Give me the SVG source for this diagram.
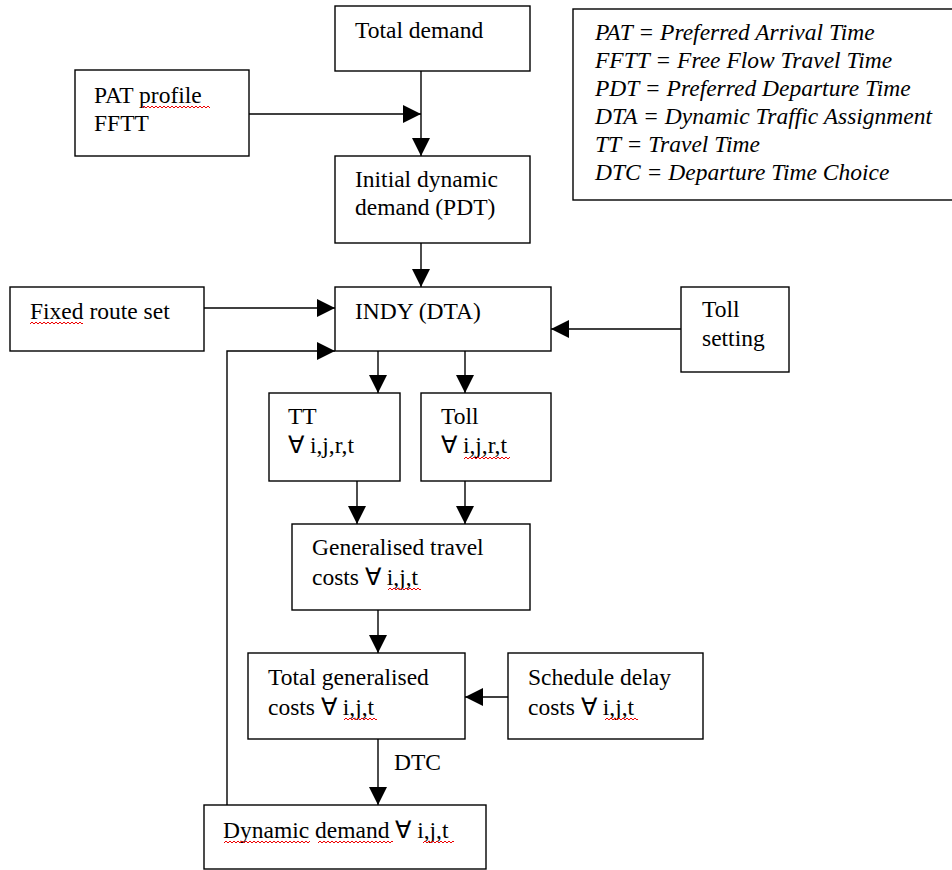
<svg xmlns="http://www.w3.org/2000/svg" xmlns:xlink="http://www.w3.org/1999/xlink" width="952" height="870" viewBox="0 0 952 870">
<style>
.box{fill:#fff;stroke:#000;stroke-width:1.4}
.t{font-family:"Liberation Serif","Times New Roman",serif;font-size:23.5px;fill:#000}
.it{font-style:italic}
.c{fill:none;stroke:#000;stroke-width:1.4}
.sq{fill:none;stroke:#e00;stroke-width:1}
</style>
<defs>
<marker id="ah" markerUnits="userSpaceOnUse" markerWidth="18" markerHeight="18" refX="18" refY="9" orient="auto">
<path d="M0,0 L18,9 L0,18 Z" fill="#000"/>
</marker>
<path id="zz" class="sq" d="M0,3 l2,-2 l2,2 l2,-2 l2,2 l2,-2 l2,2 l2,-2 l2,2 l2,-2 l2,2 l2,-2 l2,2 l2,-2 l2,2 l2,-2 l2,2 l2,-2 l2,2 l2,-2 l2,2 l2,-2 l2,2 l2,-2 l2,2 l2,-2 l2,2 l2,-2 l2,2 l2,-2 l2,2 l2,-2 l2,2 l2,-2 l2,2 l2,-2 l2,2 l2,-2 l2,2 l2,-2 l2,2 l2,-2 l2,2 l2,-2 l2,2"/>
</defs>
<rect width="952" height="870" fill="#fff"/>

<g id="legend">
<rect class="box" x="573" y="9" width="390" height="191"/>
<text class="t it" x="595" y="40">PAT = Preferred Arrival Time</text>
<text class="t it" x="595" y="68">FFTT = Free Flow Travel Time</text>
<text class="t it" x="595" y="96">PDT = Preferred Departure Time</text>
<text class="t it" x="595" y="124">DTA = Dynamic Traffic Assignment</text>
<text class="t it" x="595" y="152">TT = Travel Time</text>
<text class="t it" x="595" y="180">DTC = Departure Time Choice</text>
</g>

<g id="connectors">
<path class="c" d="M421,71 V156" marker-end="url(#ah)"/>
<path class="c" d="M248,114 H421" marker-end="url(#ah)"/>
<path class="c" d="M421,243 V287" marker-end="url(#ah)"/>
<path class="c" d="M204,308 H335" marker-end="url(#ah)"/>
<path class="c" d="M681,329 H551" marker-end="url(#ah)"/>
<path class="c" d="M227,805 V351 H335" marker-end="url(#ah)"/>
<path class="c" d="M378,351 V393" marker-end="url(#ah)"/>
<path class="c" d="M465,351 V393" marker-end="url(#ah)"/>
<path class="c" d="M357,481 V524" marker-end="url(#ah)"/>
<path class="c" d="M465,481 V524" marker-end="url(#ah)"/>
<path class="c" d="M378,610 V653" marker-end="url(#ah)"/>
<path class="c" d="M508,697 H465" marker-end="url(#ah)"/>
<path class="c" d="M378,739 V805" marker-end="url(#ah)"/>
<text class="t" x="394" y="770">DTC</text>
</g>

<g id="total-demand">
<rect class="box" x="335" y="6" width="195" height="65"/>
<text class="t" x="355" y="38">Total demand</text>
</g>

<g id="pat-profile">
<rect class="box" x="75" y="70" width="174" height="86"/>
<text class="t" x="94" y="103">PAT profile</text>
<text class="t" x="94" y="131">FFTT</text>
<svg x="142" y="105" width="68" height="4"><use xlink:href="#zz"/></svg>
</g>

<g id="initial-demand">
<rect class="box" x="335" y="156" width="195" height="87"/>
<text class="t" x="355" y="187">Initial dynamic</text>
<text class="t" x="355" y="215">demand (PDT)</text>
</g>

<g id="fixed-route">
<rect class="box" x="10" y="287" width="194" height="64"/>
<text class="t" x="30" y="319">Fixed route set</text>
<svg x="30" y="321" width="53" height="4"><use xlink:href="#zz"/></svg>
</g>

<g id="indy">
<rect class="box" x="335" y="287" width="216" height="64"/>
<text class="t" x="355" y="319">INDY (DTA)</text>
</g>

<g id="toll-setting">
<rect class="box" x="681" y="287" width="108" height="85"/>
<text class="t" x="702" y="317">Toll</text>
<text class="t" x="702" y="346">setting</text>
</g>

<g id="tt">
<rect class="box" x="269" y="393" width="131" height="88"/>
<text class="t" x="288" y="424">TT</text>
<text class="t" x="288" y="453">∀ i,j,r,t</text>
</g>

<g id="toll">
<rect class="box" x="421" y="393" width="130" height="88"/>
<text class="t" x="441" y="424">Toll</text>
<text class="t" x="441" y="453">∀ i,j,r,t</text>
<svg x="464" y="456" width="46" height="4"><use xlink:href="#zz"/></svg>
</g>

<g id="generalised-travel">
<rect class="box" x="292" y="524" width="238" height="86"/>
<text class="t" x="312" y="555">Generalised travel</text>
<text class="t" x="312" y="585">costs ∀ i,j,t</text>
<svg x="388" y="587" width="33" height="4"><use xlink:href="#zz"/></svg>
</g>

<g id="total-generalised">
<rect class="box" x="248" y="653" width="217" height="86"/>
<text class="t" x="268" y="685">Total generalised</text>
<text class="t" x="268" y="715">costs ∀ i,j,t</text>
<svg x="344" y="717" width="33" height="4"><use xlink:href="#zz"/></svg>
</g>

<g id="schedule-delay">
<rect class="box" x="508" y="653" width="195" height="86"/>
<text class="t" x="528" y="685">Schedule delay</text>
<text class="t" x="528" y="715">costs ∀ i,j,t</text>
<svg x="605" y="717" width="33" height="4"><use xlink:href="#zz"/></svg>
</g>

<g id="dynamic-demand">
<rect class="box" x="204" y="805" width="282" height="64"/>
<text class="t" x="223" y="838">Dynamic demand ∀ i,j,t</text>
<svg x="224" y="840" width="86" height="4"><use xlink:href="#zz"/></svg>
<svg x="318" y="840" width="75" height="4"><use xlink:href="#zz"/></svg>
<svg x="423" y="840" width="31" height="4"><use xlink:href="#zz"/></svg>
</g>
</svg>
